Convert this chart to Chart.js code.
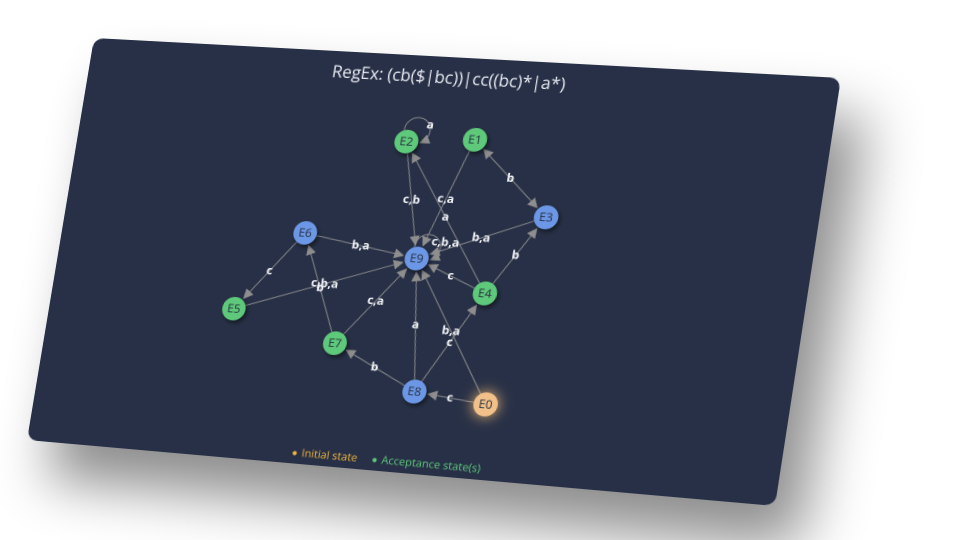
<!DOCTYPE html>
<html>
<head>
<meta charset="utf-8">
<script src="https://cdn.jsdelivr.net/npm/chart.js@4"></script>
<style>
  html, body { margin: 0; padding: 0; background: #ffffff; overflow: hidden; width: 960px; height: 540px; }
  #card {
    position: absolute; left: 0; top: 0;
    width: 750px; height: 420px;
    background: #273046;
    border-radius: 10px;
    box-shadow: 28px 38px 55px rgba(0, 0, 0, 0.45);
    transform-origin: 0 0;
  }
  #graph { position: absolute; left: 0; top: 0; }
</style>
</head>
<body>
<div id="card"><canvas id="graph" width="750" height="420"></canvas></div>
<script>
const CARD_W = 750, CARD_H = 420;
// where the card corners land on the page: TL, TR, BR, BL
const cornersX = [94, 841, 775, 27];
const cornersY = [38, 78, 506, 440];

const states = ['E0', 'E1', 'E2', 'E3', 'E4', 'E5', 'E6', 'E7', 'E8', 'E9'];
const stateX = [459, 407, 339, 489, 441, 192, 252, 300, 387, 368];
const stateY = [345, 82, 88, 155, 235, 269, 187, 296, 338, 205];
const stateKind = ['initial', 'accept', 'accept', 'other', 'accept', 'accept', 'other', 'accept', 'other', 'other'];

const edgeFrom = ['E2', 'E2', 'E4', 'E1', 'E1', 'E3', 'E4', 'E6', 'E9', 'E6', 'E5', 'E7', 'E7', 'E4', 'E8', 'E8', 'E8', 'E0', 'E0'];
const edgeTo   = ['E2', 'E9', 'E2', 'E9', 'E3', 'E9', 'E3', 'E9', 'E9', 'E5', 'E9', 'E6', 'E9', 'E9', 'E9', 'E7', 'E4', 'E9', 'E8'];
const edgeLabel = ['a', 'c,b', 'a', 'c,a', 'b', 'b,a', 'b', 'b,a', 'c,b,a', 'c', 'c,b,a', 'b', 'c,a', 'c', 'a', 'b', 'c', 'b,a', 'c'];
const edgeBoth = ['E1-E3'];

const title = 'RegEx: (cb($|bc))|cc((bc)*|a*)';
const kinds = ['initial', 'accept', 'other'];
const kindLabels = ['Initial state', 'Acceptance state(s)', 'Other state'];
const kindColors = ['#f2c089', '#5ec97a', '#6c97e6'];
const legendColors = ['#f0b43c', '#5ec97a', '#6c97e6'];

// perspective of the card
function squareToQuad(xs, ys) {
  const dx1 = xs[1] - xs[2], dx2 = xs[3] - xs[2], dx3 = xs[0] - xs[1] + xs[2] - xs[3];
  const dy1 = ys[1] - ys[2], dy2 = ys[3] - ys[2], dy3 = ys[0] - ys[1] + ys[2] - ys[3];
  const den = dx1 * dy2 - dx2 * dy1;
  const g = (dx3 * dy2 - dx2 * dy3) / den;
  const h = (dx1 * dy3 - dx3 * dy1) / den;
  return {
    a: xs[1] - xs[0] + g * xs[1], b: xs[3] - xs[0] + h * xs[3], c: xs[0],
    d: ys[1] - ys[0] + g * ys[1], e: ys[3] - ys[0] + h * ys[3], f: ys[0],
    g: g, h: h
  };
}
const m = squareToQuad(cornersX, cornersY);
document.getElementById('card').style.transform = 'matrix3d(' + [
  m.a / CARD_W, m.d / CARD_W, 0, m.g / CARD_W,
  m.b / CARD_H, m.e / CARD_H, 0, m.h / CARD_H,
  0, 0, 1, 0,
  m.c, m.f, 0, 1
].join(',') + ')';

const NODE_R = 12;

function nodePos(chart, name) {
  const i = states.indexOf(name);
  return { x: chart.scales.x.getPixelForValue(stateX[i]), y: chart.scales.y.getPixelForValue(stateY[i]) };
}

function arrowHead(ctx, x, y, ux, uy) {
  const L = 10, w = 5;
  ctx.beginPath();
  ctx.moveTo(x, y);
  ctx.lineTo(x - ux * L - uy * w, y - uy * L + ux * w);
  ctx.lineTo(x - ux * L + uy * w, y - uy * L - ux * w);
  ctx.closePath();
  ctx.fill();
}

const edgePlugin = {
  id: 'edges',
  beforeDatasetsDraw(chart) {
    const ctx = chart.ctx;
    ctx.save();
    ctx.strokeStyle = 'rgba(150,150,150,0.85)';
    ctx.fillStyle = '#8e8e8e';
    ctx.lineWidth = 1;
    for (let k = 0; k < edgeFrom.length; k++) {
      const p = nodePos(chart, edgeFrom[k]);
      const q = nodePos(chart, edgeTo[k]);
      if (edgeFrom[k] === edgeTo[k]) {
        // self loop up and to the right of the node
        const cx = p.x + 9, cy = p.y - 12, r = 13;
        const a1 = Math.atan2(p.y - 11.3 - cy, p.x - 4 - cx);
        const ex = p.x + 12, ey = p.y + 0.7;
        const a2 = Math.atan2(ey - cy, ex - cx);
        ctx.beginPath();
        ctx.arc(cx, cy, r, a1, a2 - 0.55);
        ctx.stroke();
        arrowHead(ctx, ex + 1, ey, -Math.sin(a2 - 0.25), Math.cos(a2 - 0.25));
        continue;
      }
      const dx = q.x - p.x, dy = q.y - p.y;
      const len = Math.hypot(dx, dy);
      const ux = dx / len, uy = dy / len;
      const both = edgeBoth.includes(edgeFrom[k] + '-' + edgeTo[k]);
      const sx = p.x + ux * (NODE_R + (both ? 9 : 0)), sy = p.y + uy * (NODE_R + (both ? 9 : 0));
      const tx = q.x - ux * (NODE_R + 1), ty = q.y - uy * (NODE_R + 1);
      ctx.beginPath();
      ctx.moveTo(sx, sy);
      ctx.lineTo(tx - ux * 8, ty - uy * 8);
      ctx.stroke();
      arrowHead(ctx, tx, ty, ux, uy);
      if (both) arrowHead(ctx, p.x + ux * (NODE_R + 1), p.y + uy * (NODE_R + 1), -ux, -uy);
    }
    ctx.restore();
  },
  beforeDatasetDraw(chart, args) {
    const ctx = chart.ctx;
    ctx.save();
    if (kinds[args.index] === 'initial') {
      ctx.shadowColor = 'rgba(255,196,120,0.95)';
      ctx.shadowBlur = 28;
      ctx.shadowOffsetX = 0;
      ctx.shadowOffsetY = 0;
    } else {
      ctx.shadowColor = 'rgba(0,0,0,0.5)';
      ctx.shadowBlur = 10;
      ctx.shadowOffsetX = 4;
      ctx.shadowOffsetY = 5;
    }
  },
  afterDatasetDraw(chart) {
    chart.ctx.restore();
  },
  afterDatasetsDraw(chart) {
    const ctx = chart.ctx;
    ctx.save();
    ctx.textAlign = 'center';
    ctx.textBaseline = 'middle';
    ctx.font = '12px "Open Sans"';
    ctx.fillStyle = '#263041';
    states.forEach(name => {
      const p = nodePos(chart, name);
      ctx.fillText(name, p.x, p.y + 0.5);
    });
    ctx.font = 'bold 12px "Open Sans"';
    ctx.fillStyle = '#f2f4f8';
    for (let k = 0; k < edgeFrom.length; k++) {
      const p = nodePos(chart, edgeFrom[k]);
      const q = nodePos(chart, edgeTo[k]);
      if (edgeFrom[k] === edgeTo[k]) {
        ctx.fillText(edgeLabel[k], p.x + 20 + edgeLabel[k].length * 1.2, p.y - 18);
      } else {
        ctx.fillText(edgeLabel[k], (p.x + q.x) / 2, (p.y + q.y) / 2);
      }
    }
    ctx.restore();
  }
};

const datasets = kinds.map((kind, j) => {
  const pts = [];
  states.forEach((s, i) => {
    if (stateKind[i] === kind) pts.push({ x: stateX[i], y: stateY[i] });
  });
  return {
    label: kindLabels[j],
    data: pts,
    backgroundColor: kindColors[j],
    borderWidth: 0,
    pointRadius: NODE_R,
    pointHoverRadius: NODE_R
  };
});

const chart = new Chart(document.getElementById('graph'), {
  type: 'scatter',
  data: { datasets: datasets },
  options: {
    responsive: false,
    animation: false,
    devicePixelRatio: 2,
    layout: { padding: { left: 0, right: 10, top: 0, bottom: -5 } },
    scales: {
      x: { display: false, min: 0, max: CARD_W },
      y: { display: false, min: 0, max: CARD_H, reverse: true }
    },
    plugins: {
      tooltip: { enabled: false },
      title: {
        display: true,
        text: title,
        color: '#e9ecf3',
        font: { family: '"Open Sans"', size: 17, weight: 'normal' },
        padding: { top: 12, bottom: 6 }
      },
      legend: {
        position: 'bottom',
        labels: {
          usePointStyle: true,
          pointStyle: 'circle',
          boxWidth: 3,
          boxHeight: 3,
          padding: 16,
          font: { family: '"Open Sans"', size: 11 },
          filter: item => item.datasetIndex < 2,
          generateLabels: ch => ch.data.datasets.map((ds, i) => ({
            text: ds.label,
            fillStyle: legendColors[i],
            strokeStyle: legendColors[i],
            fontColor: legendColors[i],
            lineWidth: 0,
            pointStyle: 'circle',
            datasetIndex: i,
            hidden: false
          }))
        }
      }
    }
  },
  plugins: [edgePlugin]
});

// make data units equal canvas pixels
const area = chart.chartArea;
chart.options.scales.x.min = area.left;
chart.options.scales.x.max = area.right;
chart.options.scales.y.min = area.top;
chart.options.scales.y.max = area.bottom;
chart.update('none');
</script>
</body>
</html>
